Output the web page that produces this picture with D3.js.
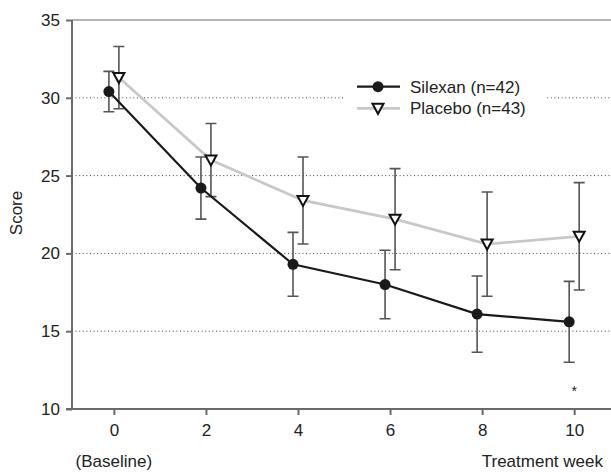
<!DOCTYPE html>
<html><head><meta charset="utf-8">
<script src="https://cdn.jsdelivr.net/npm/d3@7"></script>
<style>
body{margin:0;background:#fff;}
text{font-family:"Liberation Sans",Arial,sans-serif;}
</style></head>
<body>
<svg id="c" width="611" height="472"></svg>
<script>
const weeks = [0, 2, 4, 6, 8, 10];
const silexanMean = [30.4, 24.2, 19.3, 18.0, 16.1, 15.6];
const silexanErr  = [1.3, 2.0, 2.05, 2.2, 2.45, 2.6];
const placeboMean = [31.3, 26.0, 23.4, 22.2, 20.6, 21.1];
const placeboErr  = [2.0, 2.35, 2.8, 3.25, 3.35, 3.45];
const yTicks = [10, 15, 20, 25, 30, 35];
const gridValues = [15, 20, 25, 30];
const seriesNames = ["Silexan (n=42)", "Placebo (n=43)"];

const svg = d3.select("#c");
const W = 611, H = 472;
const x = d3.scaleLinear().domain([-0.91, 10.8]).range([72, 611]);
const y = d3.scaleLinear().domain([10, 35]).range([409, 20]);
const axisColor = "#6a6a6a";
const fs = 17;

// gridlines
svg.append("g").selectAll("line").data(gridValues).join("line")
  .attr("x1", x.range()[0]).attr("x2", W)
  .attr("y1", d => y(d)).attr("y2", d => y(d))
  .attr("stroke", "#444").attr("stroke-width", 1)
  .attr("stroke-dasharray", "1,2.6");

// top border
svg.append("line").attr("x1", x.range()[0]).attr("x2", W)
  .attr("y1", y(35)).attr("y2", y(35))
  .attr("stroke", "#999").attr("stroke-width", 1.5);

// y axis
const yAxis = d3.axisLeft(y).tickValues(yTicks).tickSize(6).tickPadding(6);
const gy = svg.append("g").attr("transform", `translate(${x.range()[0]},0)`).call(yAxis);
gy.select(".domain").attr("stroke", axisColor).attr("stroke-width", 2).attr("d", `M0,${y(35)}V${y(10)}`);
gy.selectAll(".tick line").attr("stroke", axisColor).attr("stroke-width", 2);
gy.selectAll(".tick text").attr("fill", "#222").style("font-size", fs + "px").attr("font-family", "Liberation Sans, Arial, sans-serif");

// x axis
const xAxis = d3.axisBottom(x).tickValues(weeks).tickSize(6).tickPadding(9);
const gx = svg.append("g").attr("transform", `translate(0,${y(10)})`).call(xAxis);
gx.select(".domain").attr("stroke", axisColor).attr("stroke-width", 2).attr("d", `M${x.range()[0]-6},0H${W}`);
gx.selectAll(".tick line").attr("stroke", axisColor).attr("stroke-width", 2);
gx.selectAll(".tick text").attr("fill", "#222").style("font-size", fs + "px").attr("font-family", "Liberation Sans, Arial, sans-serif");

// axis labels
svg.append("text").attr("transform", `translate(22,213) rotate(-90)`)
  .attr("text-anchor", "middle").style("font-size", "17px").attr("fill", "#222").text("Score");
svg.append("text").attr("x", x(0)).attr("y", 467).attr("text-anchor", "middle")
  .style("font-size", fs + "px").attr("fill", "#222").text("(Baseline)");
svg.append("text").attr("x", 603).attr("y", 467).attr("text-anchor", "end")
  .style("font-size", fs + "px").attr("fill", "#222").text("Treatment week");

// series
const off = 5;
const sData = weeks.map((w, i) => ({w, m: silexanMean[i], e: silexanErr[i]}));
const pData = weeks.map((w, i) => ({w, m: placeboMean[i], e: placeboErr[i]}));

function errorBars(data, dx) {
  const g = svg.append("g").attr("stroke", "#555").attr("stroke-width", 1.6).attr("fill", "none");
  g.selectAll("path").data(data).join("path")
    .attr("d", d => {
      const cx = x(d.w) + dx, t = y(d.m + d.e), b = y(d.m - d.e), c = 5.5;
      return `M${cx},${t}V${b}M${cx-c},${t}H${cx+c}M${cx-c},${b}H${cx+c}`;
    });
}
errorBars(pData, off);
errorBars(sData, -off);

const line = dx => d3.line().x(d => x(d.w) + dx).y(d => y(d.m));
svg.append("path").datum(pData).attr("d", line(off)).attr("fill", "none")
  .attr("stroke", "#c8c8c8").attr("stroke-width", 2.8);
svg.append("path").datum(sData).attr("d", line(-off)).attr("fill", "none")
  .attr("stroke", "#1a1a1a").attr("stroke-width", 2.2);

const tri = "M-5.5,-4.5L5.5,-4.5L0,5.5Z";
svg.append("g").selectAll("path").data(pData).join("path")
  .attr("transform", d => `translate(${x(d.w)+off},${y(d.m)})`)
  .attr("d", tri).attr("fill", "#fff").attr("stroke", "#111").attr("stroke-width", 2);
svg.append("g").selectAll("circle").data(sData).join("circle")
  .attr("cx", d => x(d.w) - off).attr("cy", d => y(d.m)).attr("r", 5.5).attr("fill", "#1a1a1a");

// significance marker
svg.append("text").attr("x", x(10)).attr("y", 396).attr("text-anchor", "middle")
  .style("font-size", "14px").attr("fill", "#222").text("*");

// legend
const lg = svg.append("g");
lg.append("rect").attr("x", 345).attr("y", 72).attr("width", 202).attr("height", 50).attr("fill", "#fff");
const ly = [86.7, 108.3];
lg.append("line").attr("x1", 357).attr("x2", 400).attr("y1", ly[0]).attr("y2", ly[0]).attr("stroke", "#1a1a1a").attr("stroke-width", 2.2);
lg.append("circle").attr("cx", 378).attr("cy", ly[0]).attr("r", 5.5).attr("fill", "#1a1a1a");
lg.append("line").attr("x1", 357).attr("x2", 400).attr("y1", ly[1]).attr("y2", ly[1]).attr("stroke", "#c8c8c8").attr("stroke-width", 2.8);
lg.append("path").attr("transform", `translate(378,${ly[1]})`).attr("d", tri).attr("fill", "#fff").attr("stroke", "#111").attr("stroke-width", 2);
lg.selectAll("text.l").data(seriesNames).join("text").attr("class", "l")
  .attr("x", 410).attr("y", (d, i) => ly[i] + 6).style("font-size", fs + "px").attr("fill", "#222").text(d => d);
</script>
</body></html>
